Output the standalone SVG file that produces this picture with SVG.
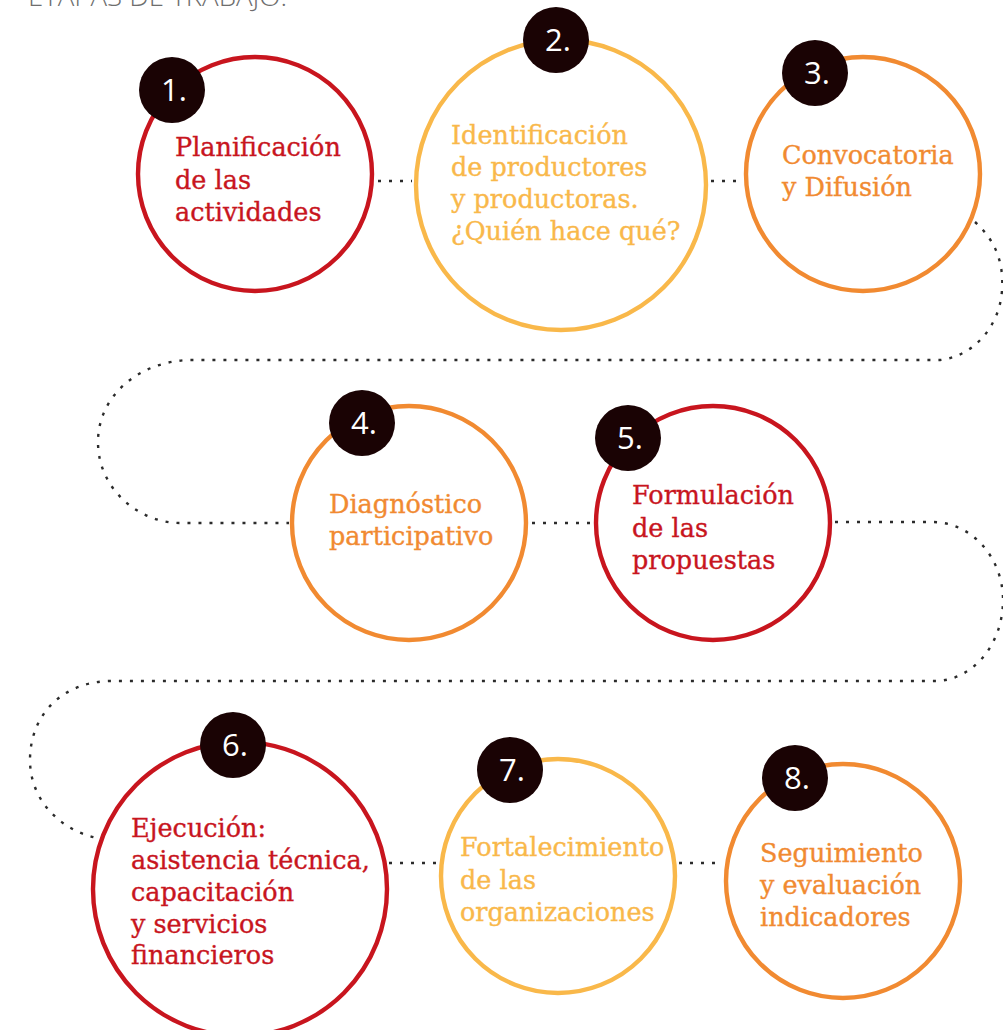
<svg xmlns="http://www.w3.org/2000/svg" width="1003" height="1030" viewBox="0 0 1003 1030">
  <style>
    .ring { fill: #ffffff; stroke-width: 4.4; }
    .red { stroke: #c8151e; }
    .yellow { stroke: #f9b84a; }
    .orange { stroke: #f18a31; }
    .badge { fill: #1a0304; }
    .num { fill: #ffffff; font-family: "Open Sans", "Noto Sans", sans-serif; font-size: 31px; text-anchor: middle; }
    .lbl { font-family: "DejaVu Serif", serif; font-size: 25.5px; stroke-width: 0.35; }
    .lbl-red { fill: #c8151e; stroke: #c8151e; }
    .lbl-yellow { fill: #f9b84a; stroke: #f9b84a; }
    .lbl-orange { fill: #f18a31; stroke: #f18a31; }
    .link { fill: none; stroke: #2b2b2b; stroke-width: 2.4; stroke-dasharray: 3 8; }
    .title { fill: #6e6e6e; font-family: "Open Sans", "Noto Sans", sans-serif; font-weight: 300; font-size: 25px; }
  </style>

  <text class="title" x="28" y="6" textLength="259" lengthAdjust="spacingAndGlyphs">ETAPAS DE TRABAJO:</text>

  <!-- dotted path linking the stages -->
  <g id="connectors">
    <path class="link" d="M378 181 H412"/>
    <path class="link" d="M711 181 H742"/>
    <path class="link" d="M975 222 C995 240 1004 262 1002 290 C1000 325 975 356 940 360 H190 C140 361 98 395 98 442 C98 490 140 523 180 523 H289"/>
    <path class="link" d="M532 523 H592"/>
    <path class="link" d="M835 522 H932 C972 522 1003 558 1003 600 C1003 645 972 681 935 681 H110 C62 682 30 715 30 760 C30 800 60 830 97 838"/>
    <path class="link" d="M389 863 H438"/>
    <path class="link" d="M679 863 H723"/>
  </g>

  <g id="stage1">
    <circle class="ring red" cx="255" cy="174" r="117"/>
    <circle class="badge" cx="172" cy="90" r="33"/>
    <text class="num" x="174" y="101">1.</text>
    <text class="lbl lbl-red" x="175" y="156">Planificación</text>
    <text class="lbl lbl-red" x="175" y="189">de las</text>
    <text class="lbl lbl-red" x="175" y="221">actividades</text>
  </g>

  <g id="stage2">
    <circle class="ring yellow" cx="561" cy="185" r="145"/>
    <circle class="badge" cx="556" cy="40" r="33"/>
    <text class="num" x="558" y="51">2.</text>
    <text class="lbl lbl-yellow" x="451" y="144">Identificación</text>
    <text class="lbl lbl-yellow" x="451" y="176">de productores</text>
    <text class="lbl lbl-yellow" x="451" y="208">y productoras.</text>
    <text class="lbl lbl-yellow" x="451" y="240">¿Quién hace qué?</text>
  </g>

  <g id="stage3">
    <circle class="ring orange" cx="863" cy="174" r="117"/>
    <circle class="badge" cx="815" cy="73" r="33"/>
    <text class="num" x="817" y="84">3.</text>
    <text class="lbl lbl-orange" x="782" y="164">Convocatoria</text>
    <text class="lbl lbl-orange" x="782" y="196">y Difusión</text>
  </g>

  <g id="stage4">
    <circle class="ring orange" cx="409" cy="523" r="117"/>
    <circle class="badge" cx="362" cy="423" r="33"/>
    <text class="num" x="364" y="434">4.</text>
    <text class="lbl lbl-orange" x="329" y="513">Diagnóstico</text>
    <text class="lbl lbl-orange" x="329" y="545">participativo</text>
  </g>

  <g id="stage5">
    <circle class="ring red" cx="713" cy="523" r="117"/>
    <circle class="badge" cx="628" cy="438" r="33"/>
    <text class="num" x="630" y="449">5.</text>
    <text class="lbl lbl-red" x="632" y="504">Formulación</text>
    <text class="lbl lbl-red" x="632" y="537">de las</text>
    <text class="lbl lbl-red" x="632" y="569">propuestas</text>
  </g>

  <g id="stage6">
    <circle class="ring red" cx="240" cy="889" r="147"/>
    <circle class="badge" cx="233" cy="745" r="33"/>
    <text class="num" x="235" y="756">6.</text>
    <text class="lbl lbl-red" x="131" y="837">Ejecución:</text>
    <text class="lbl lbl-red" x="131" y="869">asistencia técnica,</text>
    <text class="lbl lbl-red" x="131" y="901">capacitación</text>
    <text class="lbl lbl-red" x="131" y="933">y servicios</text>
    <text class="lbl lbl-red" x="131" y="964">financieros</text>
  </g>

  <g id="stage7">
    <circle class="ring yellow" cx="558" cy="876" r="117"/>
    <circle class="badge" cx="510" cy="770" r="33"/>
    <text class="num" x="512" y="781">7.</text>
    <text class="lbl lbl-yellow" x="460" y="856">Fortalecimiento</text>
    <text class="lbl lbl-yellow" x="460" y="889">de las</text>
    <text class="lbl lbl-yellow" x="460" y="921">organizaciones</text>
  </g>

  <g id="stage8">
    <circle class="ring orange" cx="843" cy="881" r="117"/>
    <circle class="badge" cx="795" cy="778" r="33"/>
    <text class="num" x="797" y="789">8.</text>
    <text class="lbl lbl-orange" x="760" y="862">Seguimiento</text>
    <text class="lbl lbl-orange" x="760" y="894">y evaluación</text>
    <text class="lbl lbl-orange" x="760" y="926">indicadores</text>
  </g>
</svg>
